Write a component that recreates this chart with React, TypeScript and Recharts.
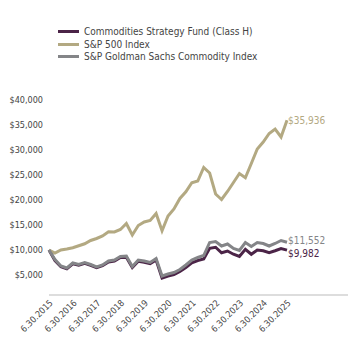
import { LineChart, Line, XAxis, YAxis, LabelList } from 'recharts';

const yearLabels = [
  '6.30.2015', '6.30.2016', '6.30.2017', '6.30.2018', '6.30.2019', '6.30.2020',
  '6.30.2021', '6.30.2022', '6.30.2023', '6.30.2024', '6.30.2025',
];

// quarterly values, growth of $10,000 (6/30/2015 - 6/30/2025)
const fundValues = [
  10000, 7900, 6650, 6250, 7250, 6950, 7350, 6950, 6450, 6850,
  7600, 7800, 8500, 8550, 6500, 7750, 7550, 7250, 8000, 4400,
  4800, 5100, 5700, 6500, 7450, 7900, 8200, 10350, 10550, 9450,
  9800, 9150, 8700, 10150, 9150, 10000, 9850, 9450, 9850, 10300,
  9982,
];
const sp500Values = [
  10000, 9400, 10000, 10200, 10450, 10850, 11250, 11900, 12300, 12800,
  13650, 13600, 14100, 15300, 13000, 14900, 15600, 15900, 17300, 13850,
  16800, 18200, 20300, 21650, 23450, 23800, 26500, 25400, 21200, 20100,
  21700, 23500, 25300, 24450, 27300, 30200, 31600, 33300, 34200, 32600,
  35936,
];
const gsciValues = [
  10000, 8100, 6800, 6400, 7400, 7100, 7500, 7100, 6600, 7000,
  7800, 8000, 8700, 8800, 6700, 8000, 7800, 7500, 8300, 4800,
  5200, 5500, 6100, 7000, 8000, 8500, 8900, 11500, 11700, 10800,
  11200, 10300, 9900, 11500, 10700, 11500, 11300, 10800, 11300, 11900,
  11552,
];

const yTicks = [5000, 10000, 15000, 20000, 25000, 30000, 35000, 40000];

const series = [
  { key: 'fund', name: 'Commodities Strategy Fund (Class H)', color: '#4b2447', dy: 3 },
  { key: 'sp', name: 'S&P 500 Index', color: '#b3a982', dy: 0 },
  { key: 'gsci', name: 'S&P Goldman Sachs Commodity Index', color: '#848588', dy: -2 },
];

const data = fundValues.map((v, i) => ({
  q: i,
  fund: v,
  sp: sp500Values[i],
  gsci: gsciValues[i],
}));

const FONT = '"Liberation Sans Narrow", "DejaVu Sans Condensed", "Open Sans", sans-serif';
const money = (v: number) => '$' + v.toLocaleString('en-US');

function endLabel(color: string, dy: number) {
  return (props: any) => {
    const { x, y, value, index } = props;
    if (index !== data.length - 1) return null;
    return (
      <text x={x + 1} y={y + dy} dy="0.35em" fill={color} fontSize={10} fontFamily={FONT}>
        {money(value)}
      </text>
    );
  };
}

export default function App() {
  return (
    <div style={{ position: 'absolute', left: 0, top: 0, width: 348, height: 340, background: '#fff' }}>
      <div style={{ position: 'absolute', left: 58, top: 25, fontFamily: FONT, fontSize: 10, color: '#444' }}>
        {series.map((s) => (
          <div key={s.key} style={{ display: 'flex', alignItems: 'center', height: 12.8 }}>
            <span style={{ display: 'inline-block', width: 21, height: 3, background: s.color, marginRight: 5 }} />
            {s.name}
          </div>
        ))}
      </div>
      <LineChart width={348} height={340} data={data} margin={{ top: 100, right: 0, bottom: 0, left: 0 }}>
        <XAxis
          dataKey="q"
          type="number"
          domain={[0, 50.25]}
          ticks={yearLabels.map((_, k) => k * 4)}
          tickFormatter={(v: number) => yearLabels[v / 4]}
          interval={0}
          height={45}
          axisLine={{ stroke: '#bbbbbb' }}
          tickLine={false}
          tickSize={0}
          tickMargin={4}
          angle={-45}
          textAnchor="end"
          tick={{ fontSize: 9, fill: '#444', fontFamily: FONT }}
        />
        <YAxis
          type="number"
          domain={[1000, 40000]}
          ticks={yTicks}
          tickFormatter={money}
          width={49}
          axisLine={false}
          tickLine={false}
          tickSize={0}
          tickMargin={6}
          tick={{ fontSize: 9, fill: '#444', fontFamily: FONT }}
        />
        {series.map((s) => (
          <Line
            key={s.key}
            dataKey={s.key}
            name={s.name}
            stroke={s.color}
            strokeWidth={3}
            dot={false}
            isAnimationActive={false}
          >
            <LabelList dataKey={s.key} content={endLabel(s.color, s.dy)} />
          </Line>
        ))}
      </LineChart>
    </div>
  );
}
